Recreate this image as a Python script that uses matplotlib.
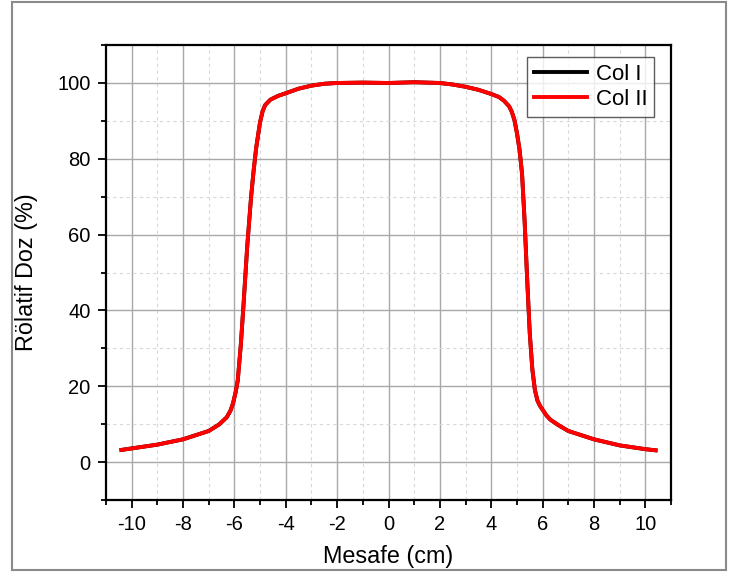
import matplotlib
matplotlib.use("Agg")
import matplotlib.pyplot as plt
from matplotlib.ticker import MultipleLocator
from matplotlib.patches import Rectangle

plt.rcParams['font.family'] = ['Liberation Sans', 'DejaVu Sans']

# distance (cm)
mesafe = [-10.4, -10.0, -9.0, -8.0, -7.0, -6.6, -6.3, -6.15, -6.05, -5.95, -5.87,
          -5.75, -5.65, -5.5, -5.35, -5.25, -5.15, -5.05, -5.0, -4.9, -4.8, -4.6, -4.3,
          -4.0, -3.5, -3.0, -2.5, -2.0, -1.0, 0.0, 1.0, 2.0, 2.5, 3.0, 3.5, 4.0,
          4.3, 4.5, 4.7, 4.8, 4.9, 5.0, 5.1, 5.2, 5.3, 5.4, 5.5, 5.6, 5.7,
          5.8, 5.9, 6.0, 6.15, 6.3, 6.6, 7.0, 8.0, 9.0, 10.0, 10.4]
# relative dose (%)
col_ii = [3.2, 3.6, 4.6, 6.0, 8.2, 9.9, 11.8, 13.6, 15.6, 18.5, 21.5,
          31.0, 41.0, 57.0, 70.0, 77.0, 83.0, 87.5, 89.7, 92.6, 94.2, 95.6, 96.6,
          97.3, 98.5, 99.3, 99.8, 100.0, 100.1, 100.0, 100.2, 100.0, 99.6, 99.0, 98.2, 97.1,
          96.3, 95.3, 93.8, 92.4, 90.3, 86.8, 82.5, 76.0, 63.5, 48.0, 34.0, 24.5, 19.0,
          16.2, 14.8, 13.8, 12.3, 11.2, 9.8, 8.2, 6.0, 4.4, 3.4, 3.1]
col_i = list(col_ii)

series_names = ["Col I", "Col II"]
x_ticks = [-10, -8, -6, -4, -2, 0, 2, 4, 6, 8, 10]
y_ticks = [0, 20, 40, 60, 80, 100]

fig = plt.figure(figsize=(7.32, 5.78), dpi=100)
ax = fig.add_axes([0.1448, 0.135, 0.7719, 0.787])

ax.plot(mesafe, col_i, color='black', lw=2.8, label=series_names[0], zorder=3)
ax.plot(mesafe, col_ii, color='#ff0000', lw=2.8, label=series_names[1], zorder=4)

ax.set_xlim(-11, 11)
ax.set_ylim(-10, 110)
ax.set_xticks(x_ticks)
ax.set_yticks(y_ticks)
ax.xaxis.set_minor_locator(MultipleLocator(1))
ax.yaxis.set_minor_locator(MultipleLocator(10))
ax.set_xticklabels([str(t) for t in x_ticks])

ax.grid(which='major', color='#a8a8a8', lw=1.0, ls='-', zorder=0)
ax.grid(which='minor', color='#d8d8d8', lw=0.8, ls=(0, (3, 3)), zorder=0)
ax.set_axisbelow(True)

ax.tick_params(which='major', direction='out', length=6, width=1.3, labelsize=14.5,
               top=False, right=False, pad=5)
ax.tick_params(which='minor', direction='out', length=3.5, width=1.3,
               top=False, right=False)
for s in ax.spines.values():
    s.set_linewidth(1.6)

ax.set_xlabel("Mesafe (cm)", fontsize=16.8, labelpad=8)
ax.set_ylabel("Rölatif Doz (%)", fontsize=16.8, labelpad=14)

leg = ax.legend(loc='upper right', bbox_to_anchor=(1 - 17 / 565, 1 - 12 / 455),
                fontsize=16, frameon=True, fancybox=False,
                handlelength=2.4, handletextpad=0.4, borderpad=0.3, labelspacing=0.2,
                borderaxespad=0.0)
leg.get_frame().set_edgecolor('#333333')
leg.get_frame().set_linewidth(1.0)

fig.patches.append(Rectangle((12 / 732, 1 - 570 / 578), (726 - 12) / 732, (570 - 2) / 578,
                             transform=fig.transFigure, fill=False,
                             edgecolor='#8a8a8a', lw=1.5))

fig.savefig("out.png", dpi=100)
